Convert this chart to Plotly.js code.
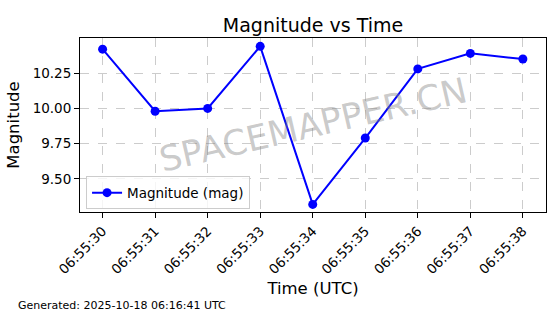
<!DOCTYPE html>
<html>
<head>
<meta charset="utf-8">
<script src="https://cdn.plot.ly/plotly-3.0.1.min.js"></script>
<style>
  html, body { margin: 0; padding: 0; background: #fff; }
  #chart { width: 560px; height: 314px; }
</style>
</head>
<body>
<div id="chart"></div>
<script>
// Data
const timeLabels = ["06:55:30", "06:55:31", "06:55:32", "06:55:33", "06:55:34",
                    "06:55:35", "06:55:36", "06:55:37", "06:55:38"];
const magnitudes = [10.42, 9.98, 10.00, 10.44, 9.32, 9.79, 10.28, 10.39, 10.35];
const yTickVals = [9.50, 9.75, 10.00, 10.25];
const yTickText = ["9.50", "9.75", "10.00", "10.25"];
const seriesName = "Magnitude (mag)";
const chartTitle = "Magnitude vs Time";
const xTitle = "Time (UTC)";
const yTitle = "Magnitude";
const watermark = "SPACEMAPPER.CN";
const footer = "Generated: 2025-10-18 06:16:41 UTC";

const FONT = "DejaVu Sans, sans-serif";
const W = 560, H = 314;
const margin = {l: 80, r: 14, t: 38, b: 102, pad: 0};
const plotW = W - margin.l - margin.r;
const plotH = H - margin.t - margin.b;

const trace = {
  x: timeLabels,
  y: magnitudes,
  type: "scatter",
  mode: "lines+markers",
  name: seriesName,
  line: {color: "#0000ff", width: 2},
  marker: {color: "#0000ff", size: 9}
};

const layout = {
  width: W, height: H,
  margin: margin,
  paper_bgcolor: "#ffffff",
  plot_bgcolor: "#ffffff",
  font: {family: FONT, color: "#000000", size: 13},
  title: {
    text: chartTitle,
    font: {family: FONT, size: 19, color: "#000"},
    x: 0.5, xref: "paper", xanchor: "center",
    y: 1, yref: "paper", yanchor: "bottom",
    pad: {b: 6}
  },
  showlegend: true,
  legend: {
    x: 0.013, y: 0.015, xanchor: "left", yanchor: "bottom",
    bgcolor: "rgba(255,255,255,0.8)",
    bordercolor: "#cccccc", borderwidth: 1,
    font: {family: FONT, size: 13.5, color: "#000"},
    itemwidth: 30
  },
  xaxis: {
    type: "category",
    range: [-0.43, 8.44],
    tickangle: -45,
    ticks: "outside", ticklen: 5, tickcolor: "#000", tickwidth: 1,
    tickfont: {family: FONT, size: 13.5, color: "#000"},
    showline: true, linecolor: "#000", linewidth: 1, mirror: true,
    showgrid: true, gridcolor: "#cccccc", griddash: "dash", gridwidth: 1,
    zeroline: false,
    automargin: false,
    title: {text: xTitle, font: {family: FONT, size: 16.5, color: "#000"}}
  },
  yaxis: {
    range: [9.266, 10.499],
    tickvals: yTickVals, ticktext: yTickText,
    ticks: "outside", ticklen: 5, tickcolor: "#000", tickwidth: 1,
    tickfont: {family: FONT, size: 13.5, color: "#000"},
    showline: true, linecolor: "#000", linewidth: 1, mirror: true,
    showgrid: true, gridcolor: "#cccccc", griddash: "dash", gridwidth: 1,
    zeroline: false,
    automargin: false,
    title: {text: yTitle, standoff: 8, font: {family: FONT, size: 16.5, color: "#000"}}
  },
  annotations: [
    {
      text: watermark, xref: "paper", yref: "paper", x: 0.5, y: 0.5,
      xanchor: "center", yanchor: "middle", showarrow: false,
      textangle: -13,
      font: {family: FONT, size: 35, color: "rgba(128,128,128,0.42)"}
    },
    {
      text: footer, xref: "paper", yref: "paper",
      x: (16 - margin.l) / plotW, y: (H - margin.b - 305) / plotH,
      xanchor: "left", yanchor: "middle", showarrow: false,
      font: {family: FONT, size: 11, color: "#000"}
    }
  ]
};

Plotly.newPlot("chart", [trace], layout, {displayModeBar: false, staticPlot: true});
</script>
</body>
</html>
